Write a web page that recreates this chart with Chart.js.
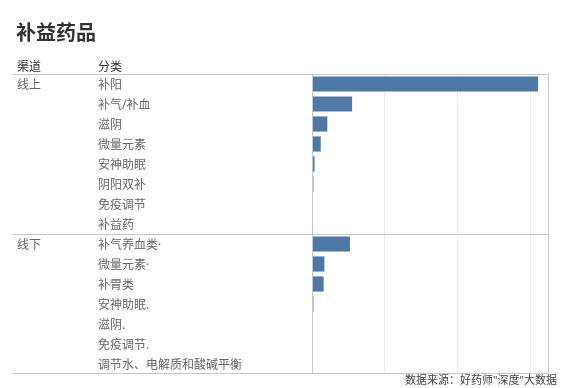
<!DOCTYPE html>
<html><head><meta charset="utf-8">
<script src="https://cdn.jsdelivr.net/npm/chart.js@4/dist/chart.umd.min.js"></script>
<style>html,body{margin:0;padding:0;background:#fff}#wrap{width:561px;height:388px;position:relative}</style>
</head><body><div id="wrap"><canvas id="c" width="561" height="388"></canvas></div>
<script>
const title = "补益药品";
const headers = ["渠道", "分类"];
const channels = ["线上", "线下"];
const onlineCategories = ["补阳", "补气/补血", "滋阴", "微量元素", "安神助眠", "阴阳双补", "免疫调节", "补益药"];
const onlineValues = [3.10, 0.55, 0.21, 0.12, 0.035, 0.02, 0, 0];
const offlineCategories = ["补气养血类·", "微量元素·", "补胃类", "安神助眠.", "滋阴.", "免疫调节.", "调节水、电解质和酸碱平衡"];
const offlineValues = [0.52, 0.17, 0.16, 0.02, 0, 0, 0];
const xTicks = [0, 1, 2, 3];
const source = "数据来源：好药师\"深度\"大数据";

const labels = onlineCategories.concat(offlineCategories);
const values = onlineValues.concat(offlineValues);
const groupStarts = [0, onlineCategories.length];
const FONT = "'Noto Sans', 'Noto Sans CJK SC', sans-serif";
const DY = 2;

const tablePlugin = {
  id: 'table',
  afterDraw(chart) {
    const ctx = chart.ctx, a = chart.chartArea, y = chart.scales.y;
    ctx.save();
    ctx.fillStyle = '#333';
    ctx.font = "bold 20px " + FONT;
    ctx.textBaseline = 'middle';
    ctx.textAlign = 'left';
    ctx.fillText(title, 16, 34);
    ctx.font = "12px " + FONT;
    ctx.fillStyle = '#333';
    ctx.fillText(headers[0], 17, 66 + DY);
    ctx.fillText(headers[1], 98, 66 + DY);
    ctx.fillStyle = '#666';
    labels.forEach((l, i) => {
      ctx.fillText(l, 98, y.getPixelForValue(i) + DY);
    });
    channels.forEach((c, k) => {
      ctx.fillText(c, 17, y.getPixelForValue(groupStarts[k]) + DY);
    });
    ctx.strokeStyle = '#c8c8c8';
    ctx.lineWidth = 1;
    const hl = (yy) => { ctx.beginPath(); ctx.moveTo(12, yy); ctx.lineTo(a.right, yy); ctx.stroke(); };
    hl(Math.round(a.top) + 0.5);
    const sepY = (y.getPixelForValue(groupStarts[1] - 1) + y.getPixelForValue(groupStarts[1])) / 2;
    hl(Math.round(sepY) + 0.5);
    hl(Math.round(a.bottom) - 0.5);
    ctx.beginPath();
    ctx.moveTo(Math.round(a.left) + 0.5, a.top); ctx.lineTo(Math.round(a.left) + 0.5, a.bottom);
    ctx.moveTo(Math.round(a.right) - 0.5, a.top); ctx.lineTo(Math.round(a.right) - 0.5, a.bottom);
    ctx.stroke();
    ctx.fillStyle = '#444';
    ctx.font = "11px " + FONT;
    ctx.textAlign = 'right';
    ctx.fillText(source, 557, 381);
    ctx.restore();
  }
};

new Chart(document.getElementById('c'), {
  type: 'bar',
  data: {
    labels: labels,
    datasets: [{
      data: values,
      backgroundColor: '#4e79a7',
      barPercentage: 0.76,
      categoryPercentage: 1.0
    }]
  },
  options: {
    indexAxis: 'y',
    responsive: false,
    animation: false,
    layout: { padding: { top: 74, left: 312, right: 12, bottom: 14 } },
    plugins: { legend: { display: false }, tooltip: { enabled: false }, title: { display: false } },
    scales: {
      x: {
        min: 0, max: 3.25,
        afterBuildTicks: (s) => { s.ticks = xTicks.map(v => ({ value: v })); },
        ticks: { display: false },
        grid: { color: '#ebebeb', drawTicks: false, tickLength: 0 },
        border: { display: false }
      },
      y: { display: false }
    }
  },
  plugins: [tablePlugin]
});
</script>
</body></html>
